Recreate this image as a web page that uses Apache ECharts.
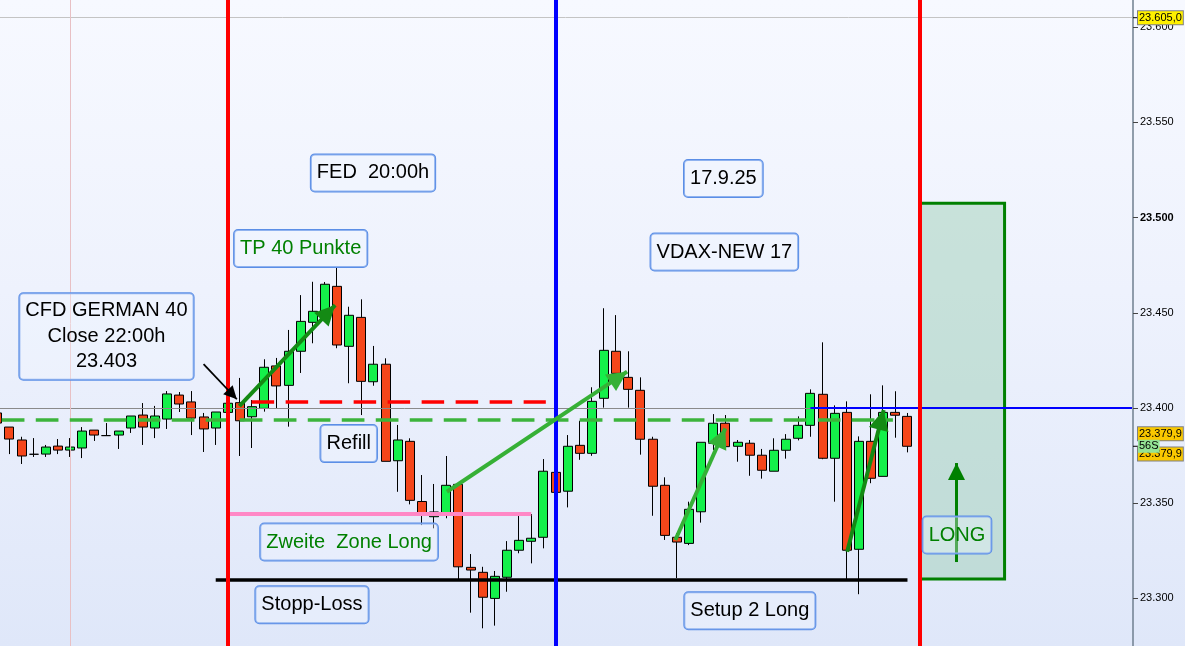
<!DOCTYPE html>
<html><head><meta charset="utf-8">
<script src="https://cdn.jsdelivr.net/npm/echarts@6/dist/echarts.min.js"></script>
<style>
html,body{margin:0;padding:0;width:1185px;height:646px;overflow:hidden;background:linear-gradient(180deg,#f7f9ff 0%,#eef2fd 45%,#dfe7f9 100%);}
#c{width:1185px;height:646px;}
</style>
</head><body><div id="c"></div>
<script>
// ---------- data ----------
const slotCount = 94; // candle slots incl. empty future area
const categories = [];
for (let i = 0; i < slotCount; i++) categories.push('K' + i);

// [open, close, low, high]
const candles = [
 [23397.4,23392.1,23389.5,23399.5],[23390.0,23383.7,23375.8,23390.0],[23383.2,23374.8,23370.6,23384.9],
 [23375.7,23375.7,23374.3,23384.2],[23375.8,23379.5,23374.3,23380.6],[23380.0,23377.9,23375.8,23383.7],
 [23377.9,23379.5,23374.3,23384.2],[23379.0,23387.9,23373.7,23390.0],[23388.4,23385.8,23382.7,23388.4],
 [23385.5,23385.5,23385.3,23392.1],[23385.8,23387.9,23378.5,23387.9],[23389.5,23395.8,23386.9,23395.8],
 [23396.3,23390.0,23380.6,23402.6],[23389.5,23395.8,23384.2,23401.1],[23394.2,23407.4,23389.0,23408.9],
 [23406.8,23402.1,23397.9,23408.4],[23403.2,23394.7,23385.8,23408.9],[23395.3,23389.0,23376.9,23397.4],
 [23389.5,23397.9,23380.6,23397.9],[23397.7,23402.5,23396.3,23405.3],[23402.8,23393.3,23374.8,23415.8],
 [23395.4,23400.7,23379.0,23404.2],[23399.8,23421.4,23398.1,23425.6],[23422.1,23411.6,23400.0,23426.3],
 [23411.9,23429.8,23390.2,23441.0],[23429.8,23445.5,23418.4,23459.3],[23445.0,23450.8,23434.0,23466.3],
 [23449.7,23465.0,23448.3,23466.2],[23463.9,23433.1,23431.4,23474.2],[23432.4,23448.7,23413.0,23453.2],
 [23447.6,23414.0,23396.3,23457.1],[23413.8,23423.0,23411.7,23432.6],[23423.0,23372.0,23372.0,23426.1],
 [23372.3,23383.2,23356.0,23391.1],[23382.5,23351.5,23349.4,23384.1],[23350.9,23344.9,23338.5,23364.8],
 [23342.9,23345.4,23336.8,23360.1],[23344.7,23359.4,23342.1,23374.8],[23359.9,23316.6,23310.0,23359.9],
 [23316.3,23314.9,23292.5,23323.3],[23313.7,23300.6,23284.3,23316.6],[23300.0,23311.6,23285.7,23314.4],
 [23311.1,23325.3,23303.5,23330.1],[23325.3,23330.5,23323.7,23343.3],[23330.0,23331.6,23318.4,23344.3],
 [23332.1,23366.8,23326.3,23373.2],[23366.2,23355.7,23354.3,23370.1],[23356.3,23379.9,23347.8,23385.8],
 [23380.4,23376.2,23372.8,23393.3],[23376.2,23403.5,23374.9,23410.9],[23405.1,23430.3,23400.2,23452.4],
 [23429.8,23418.2,23418.2,23448.8],[23416.1,23409.8,23400.2,23429.8],[23409.3,23383.6,23375.5,23416.1],
 [23383.6,23358.9,23343.4,23384.9],[23359.4,23333.1,23330.7,23363.6],[23332.1,23329.6,23310.7,23334.3],
 [23328.9,23346.8,23328.0,23350.8],[23345.5,23382.0,23339.8,23382.0],[23381.5,23392.0,23377.9,23396.8],
 [23392.0,23379.7,23379.7,23396.3],[23379.9,23382.0,23371.8,23383.2],[23381.5,23375.2,23364.4,23383.2],
 [23375.2,23367.3,23362.9,23378.5],[23366.8,23377.8,23366.8,23384.1],[23377.8,23383.6,23373.4,23386.3],
 [23384.1,23390.9,23383.0,23395.6],[23390.9,23407.7,23384.9,23409.8],[23407.2,23373.6,23373.1,23434.5],
 [23373.6,23397.2,23350.8,23401.4],[23397.7,23325.3,23310.0,23403.5],[23325.8,23382.5,23302.2,23385.1],
 [23382.5,23363.1,23360.5,23407.2],[23364.1,23397.7,23364.1,23411.9],[23397.7,23396.2,23384.4,23408.8],
 [23395.6,23379.9,23376.7,23397.4]
];

const yTicks = {min: 23250, max: 23614.3, step: 50};

// horizontal levels: [price, fromSlot, toSlot]
const refLevel      = [23400, -0.5, 67];      // grey part
const lastLevel     = [23400, 67, 93.5];      // blue part
const topLevel      = [23605, -0.5, 93.5];
const closeLevel    = [23394.0, 0.37, 73.8];  // green dashed
const cfdLevel      = [23403.5, 20.96, 45.2]; // red dashed
const zoneLevel     = [23344.5, 19, 44];      // pink
const stopLevel     = [23309.6, 18, 75];      // black
const vLinesRed     = [19, 76];
const vLineBlue     = [46];
const vGrid         = [6];
const longZone      = [[76, 23507.5], [83, 23310.2]];

// arrows: [x1, y1, x2, y2]
const arrowBlack  = [17.0, 23423.1, 19.74, 23404.6];
const arrowTP     = [19.95, 23401.0, 27.84, 23454.1];
const arrowMid    = [37.05, 23356.0, 51.9, 23419.1];
const arrowSetup  = [55.87, 23330.7, 59.99, 23389.3];
const arrowSetup2 = [70.03, 23324.5, 73.04, 23398.9];
const arrowLong   = [79.04, 23319.1, 79.04, 23371.1];

// text notes: [text, slot, price]
const notes = [
 ['CFD GERMAN 40\nClose 22:00h\n23.403', 9.0, 23437.6, 'k'],
 ['FED  20:00h', 30.96, 23523.5, 'k'],
 ['17.9.25', 59.83, 23520.5, 'k'],
 ['VDAX-NEW 17', 59.91, 23481.9, 'k'],
 ['TP 40 Punkte', 25.0, 23483.8, 'g'],
 ['Refill', 28.96, 23381.3, 'k'],
 ['Zweite  Zone Long', 28.99, 23329.6, 'g'],
 ['Stopp-Loss', 25.93, 23296.7, 'k'],
 ['Setup 2 Long', 62.01, 23293.5, 'k'],
 ['LONG', 79.08, 23333.3, 'g']
];

// price tags on axis: [text, price, shift]
const tags = [
 ['23.605,0', 23605, 0],
 ['23.379,9', 23379.9, -12.6],
 ['23.379,9', 23379.9, 7.7],
 ['56S', 23379.9, 0]
];

// ---------- chart ----------
const FONT = '"Liberation Sans", Arial, sans-serif';
const chart = echarts.init(document.getElementById('c'));

function hseg(l, style) {
  return [{coord: [l[1], l[0]], lineStyle: style}, {coord: [l[2], l[0]]}];
}
function arrow(a, color, width, size) {
  return [
    {coord: [a[0], a[1]], symbol: 'none', lineStyle: {color: color, width: width, type: 'solid'}},
    {coord: [a[2], a[3]], symbol: 'triangle', symbolSize: size, symbolOffset: [0, size / 2]}
  ];
}
const DARKG = '#148a14', LIGHTG = '#36b036';

const option = {
  animation: false,
  backgroundColor: 'transparent',
  grid: {left: -8.8, right: 53, top: 0, bottom: -47.6, outerBoundsMode: 'none', containLabel: false},
  xAxis: [
    {type: 'category', data: categories, show: false, boundaryGap: true},
    {type: 'value', min: -0.5, max: slotCount - 0.5, show: false}
  ],
  yAxis: {
    type: 'value', position: 'right', offset: 1,
    min: yTicks.min, max: yTicks.max, interval: yTicks.step,
    axisLine: {show: true, onZero: false, lineStyle: {color: '#6f7f8f', width: 1.5}},
    axisTick: {show: true, length: 5, lineStyle: {color: '#444'}},
    splitLine: {show: false},
    axisLabel: {
      margin: 7, fontSize: 11, color: '#000', fontFamily: FONT, showMaxLabel: false,
      formatter: function (v) {
        if (Math.abs(v % 50) > 0.01) return '';
        const s = (v / 1000).toFixed(3);
        return v === 23500 ? '{b|' + s + '}' : s;
      },
      rich: {b: {fontWeight: 'bold', fontSize: 11, fontFamily: FONT, color: '#000'}}
    }
  },
  series: [
    {
      type: 'line', xAxisIndex: 1, data: [], z: 1, silent: true,
      markArea: {
        silent: true,
        itemStyle: {color: 'rgba(150,205,175,0.45)', borderColor: '#008000', borderWidth: 3},
        data: [[{coord: longZone[0]}, {coord: longZone[1]}]]
      },
      markLine: {
        silent: true, symbol: 'none', label: {show: false},
        data: [
          hseg(refLevel, {color: '#8a8a8a', width: 1, type: 'solid'}),
          hseg(topLevel, {color: '#c4c4c4', width: 1, type: 'solid'}),
          {xAxis: vGrid[0], lineStyle: {color: '#e8c0c4', width: 1, type: 'solid'}}
        ]
      }
    },
    {
      type: 'candlestick', xAxisIndex: 0, data: candles, z: 2, barWidth: 9.5,
      itemStyle: {
        color: '#14f04a', color0: '#f5461a',
        borderColor: '#000', borderColor0: '#000', borderColorDoji: '#000', borderWidth: 1
      }
    },
    {
      type: 'line', xAxisIndex: 1, data: [], z: 5, silent: true,
      markLine: {
        silent: true, symbol: 'none', label: {show: false},
        data: [
          hseg(lastLevel, {color: '#0000ff', width: 2, type: 'solid'}),
          hseg(closeLevel, {color: '#3cb43c', width: 3.5, type: [22.7, 11.3]}),
          hseg(cfdLevel, {color: '#ff0000', width: 3.5, type: [22.5, 11.5]}),
          hseg(zoneLevel, {color: '#ff88c6', width: 4, type: 'solid'}),
          hseg(stopLevel, {color: '#000000', width: 3.5, type: 'solid'}),
          {xAxis: vLinesRed[0], lineStyle: {color: '#ff0000', width: 4, type: 'solid'}},
          {xAxis: vLinesRed[1], lineStyle: {color: '#ff0000', width: 4, type: 'solid'}},
          {xAxis: vLineBlue[0], lineStyle: {color: '#0000ff', width: 4, type: 'solid'}}
        ]
      }
    },
    {
      type: 'line', xAxisIndex: 1, data: [], z: 6, silent: true,
      markLine: {
        silent: true, label: {show: false}, symbol: 'none',
        data: [
          arrow(arrowBlack, '#000', 1.8, 13),
          arrow(arrowTP, DARKG, 4, 20),
          arrow(arrowMid, LIGHTG, 4, 20),
          arrow(arrowSetup, LIGHTG, 4, 20),
          arrow(arrowSetup2, DARKG, 4, 20),
          arrow(arrowLong, '#008000', 3, 17)
        ].map(function (pair) {
          pair[1].itemStyle = {color: pair[0].lineStyle.color};
          return pair;
        })
      },
      markPoint: {
        silent: true, symbol: 'circle', symbolSize: 1,
        itemStyle: {color: 'transparent'},
        label: {
          show: true, position: 'inside', formatter: '{b}',
          fontSize: 20, fontFamily: FONT, color: '#000',
          backgroundColor: 'rgba(242,246,255,0.35)', borderColor: '#5b8ee6', borderWidth: 1,
          borderRadius: 4, padding: [7, 6, 7, 6], lineHeight: 23
        },
        data: notes.map(function (n) {
          const it = {name: n[0], coord: [n[1], n[2]], label: {color: n[3] === 'g' ? '#008000' : '#000'}};
          if (n[0].indexOf('\n') >= 0) { it.label.lineHeight = 25.5; it.label.padding = [5, 6, 5, 6]; }
          return it;
        })
      }
    }
  ]
};
chart.setOption(option);

// axis price tags
const tagColors = ['#fff000', '#f9c800', '#f9c800', '#94e494'];
const g = [];
tags.forEach(function (t, i) {
  const y = chart.convertToPixel({yAxisIndex: 0}, t[1]);
  if (i === 0 || i === 1) {
    g.push({type: 'line', shape: {x1: 1133, y1: y, x2: 1138, y2: y}, style: {stroke: '#000', lineWidth: 1}, z: 50});
  }
  g.push({
    type: 'text', x: 1138, y: y + t[2], z: 60 + i,
    style: {
      text: t[0], fill: '#000', font: '11px ' + FONT, verticalAlign: 'middle',
      backgroundColor: tagColors[i], borderColor: i === 3 ? 'transparent' : '#808080', borderWidth: 1,
      padding: [1, 1, 1, 1]
    }
  });
});
chart.setOption({graphic: g});
</script>
</body></html>
